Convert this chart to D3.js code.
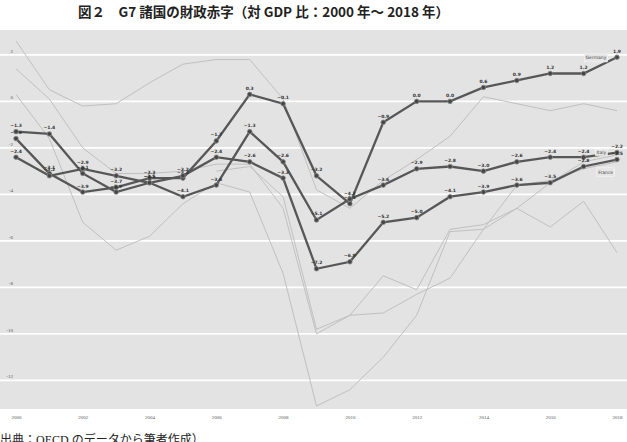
<!DOCTYPE html>
<html>
<head>
<meta charset="utf-8">
<script src="https://cdn.jsdelivr.net/npm/d3@7"></script>
<style>
  body { margin: 0; background: #fff; }
  svg { display: block; }
</style>
</head>
<body>
<div id="graph-container"></div>
<script>
// Data (general government balance, % of GDP)
const years = [2000, 2001, 2002, 2003, 2004, 2005, 2006, 2007, 2008, 2009,
               2010, 2011, 2012, 2013, 2014, 2015, 2016, 2017, 2018];
const xTicks = [2000, 2002, 2004, 2006, 2008, 2010, 2012, 2014, 2016, 2018];
const yTicks = [2, 0, -2, -4, -6, -8, -10, -12];

// highlighted countries
const germany = [-1.6, -3.1, -3.9, -3.7, -3.3, -3.3, -1.7, 0.3, -0.1, -3.2, -4.4, -0.9, 0.0, 0.0, 0.6, 0.9, 1.2, 1.2, 1.9];
const italy   = [-2.4, -3.2, -2.9, -3.2, -3.5, -4.1, -3.6, -1.3, -2.6, -5.1, -4.2, -3.6, -2.9, -2.8, -3.0, -2.6, -2.4, -2.4, -2.2];
const france  = [-1.3, -1.4, -3.1, -3.9, -3.5, -3.2, -2.4, -2.6, -3.3, -7.2, -6.9, -5.2, -5.0, -4.1, -3.9, -3.6, -3.5, -2.8, -2.5];

// other G7 countries (background lines)
const canada = [2.6, 0.5, -0.2, -0.1, 0.8, 1.6, 1.8, 1.8, 0.1, -3.8, -4.6, -3.4, -2.5, -1.5, 0.2, -0.1, -0.4, -0.1, -0.4];
const uk     = [1.4, 0.1, -2.0, -3.1, -3.1, -3.0, -2.7, -2.7, -4.6, -10.0, -9.2, -7.5, -8.1, -5.5, -5.3, -4.6, -3.5, -2.6, -2.3];
const us     = [0.3, -1.6, -5.2, -6.4, -5.8, -4.4, -3.5, -3.9, -7.4, -13.1, -12.4, -11.0, -9.2, -5.6, -5.5, -4.6, -5.4, -4.3, -6.5];
const japan  = [null, null, null, null, null, null, -3.0, -2.8, -4.1, -9.8, -9.2, -9.1, -8.3, -7.6, -5.5, -3.6, -3.4, -2.9, -2.6];

const highlighted = [
  { name: "Germany", values: germany },
  { name: "Italy", values: italy },
  { name: "France", values: france }
];
const others = [canada, uk, us, japan];

// Chart dimensions
const W = 627, H = 442;
const plot = { left: 0, right: 627, top: 30, bottom: 409 };

const svg = d3.select("#graph-container")
  .append("svg")
    .attr("width", W)
    .attr("height", H);

// Title
svg.append("text")
  .attr("x", 78)
  .attr("y", 17)
  .attr("font-family", "'Noto Sans CJK JP', sans-serif")
  .attr("font-size", 13.5)
  .attr("font-weight", "bold")
  .attr("fill", "#222")
  .text("図２　G7 諸国の財政赤字（対 GDP 比：2000 年～ 2018 年）");

// Scales
const x = d3.scaleLinear()
  .domain([2000, 2018])
  .range([16, 617]);

const y = d3.scaleLinear()
  .domain([-13.23, 3.07])
  .range([plot.bottom, plot.top]);

// Plot background
svg.append("rect")
  .attr("x", plot.left)
  .attr("y", plot.top)
  .attr("width", plot.right - plot.left)
  .attr("height", plot.bottom - plot.top)
  .attr("fill", "#e3e3e3");

// Horizontal grid lines
svg.append("g")
  .selectAll("line")
  .data(yTicks)
  .join("line")
    .attr("x1", plot.left)
    .attr("x2", plot.right)
    .attr("y1", d => y(d))
    .attr("y2", d => y(d))
    .attr("stroke", "#fff")
    .attr("stroke-width", 1.8);

// y tick labels
svg.append("g")
  .selectAll("text")
  .data(yTicks)
  .join("text")
    .attr("x", 13)
    .attr("y", d => y(d) - 2)
    .attr("text-anchor", "end")
    .attr("font-family", "'Liberation Serif', serif")
    .attr("font-size", 5)
    .attr("fill", "#555")
    .text(d => d);

// x axis
const xAxis = svg.append("g")
  .attr("transform", `translate(0,${plot.bottom})`)
  .call(d3.axisBottom(x)
    .tickValues(xTicks)
    .tickFormat(d3.format("d"))
    .tickSize(2)
    .tickPadding(4));
xAxis.select(".domain").remove();
xAxis.selectAll("line").attr("stroke", "#fff");
xAxis.selectAll("text")
  .attr("font-family", "'Liberation Serif', serif")
  .attr("font-size", 5)
  .attr("fill", "#555");

// Line generator
const line = d3.line()
  .defined(d => d != null)
  .x((d, i) => x(years[i]))
  .y(d => y(d));

// Background countries
svg.append("g")
  .selectAll("path")
  .data(others)
  .join("path")
    .attr("fill", "none")
    .attr("stroke", "#c0c0c0")
    .attr("stroke-width", 1)
    .attr("d", line);

// Highlighted countries
const hl = svg.append("g");
hl.selectAll("path")
  .data(highlighted)
  .join("path")
    .attr("fill", "none")
    .attr("stroke", "#575757")
    .attr("stroke-width", 2.3)
    .attr("d", d => line(d.values));

highlighted.forEach(s => {
  const pts = s.values.map((v, i) => ({ year: years[i], value: v }));
  hl.append("g")
    .selectAll("circle")
    .data(pts)
    .join("circle")
      .attr("cx", d => x(d.year))
      .attr("cy", d => y(d.value))
      .attr("r", 2.3)
      .attr("fill", "#454545")
      .attr("stroke", "#8a8a8a")
      .attr("stroke-width", 0.8);
  hl.append("g")
    .selectAll("text")
    .data(pts)
    .join("text")
      .attr("x", d => x(d.year))
      .attr("y", d => y(d.value) - 4.5)
      .attr("text-anchor", "middle")
      .attr("font-family", "'DejaVu Sans', sans-serif")
      .attr("font-size", 4.5)
      .attr("font-weight", "bold")
      .attr("fill", "#333")
      .text(d => d3.format(".1f")(d.value));
});

// Country name labels
const nameLabels = [
  { name: "Germany", year: 2017.37, value: 1.87, w: 23, h: 8 },
  { name: "Italy", year: 2017.53, value: -2.2, w: 12, h: 6 },
  { name: "France", year: 2017.66, value: -3.04, w: 18, h: 9 }
];
const nl = svg.append("g")
  .selectAll("g")
  .data(nameLabels)
  .join("g")
    .attr("transform", d => `translate(${x(d.year)},${y(d.value)})`);
nl.append("rect")
  .attr("x", d => -d.w / 2)
  .attr("y", d => -d.h / 2)
  .attr("width", d => d.w)
  .attr("height", d => d.h)
  .attr("fill", "#e6e6e6")
  .attr("stroke", "#f4f4f4")
  .attr("stroke-width", 0.6);
nl.append("text")
  .attr("text-anchor", "middle")
  .attr("dy", "0.35em")
  .attr("font-family", "'DejaVu Sans', sans-serif")
  .attr("font-size", 4.5)
  .attr("fill", "#444")
  .text(d => d.name);

// Source note
svg.append("text")
  .attr("x", 0)
  .attr("y", 444)
  .attr("font-family", "'Liberation Serif', 'Noto Sans CJK JP', serif")
  .attr("font-size", 12)
  .attr("fill", "#222")
  .text("出典：OECD のデータから筆者作成）");
</script>
</body>
</html>
